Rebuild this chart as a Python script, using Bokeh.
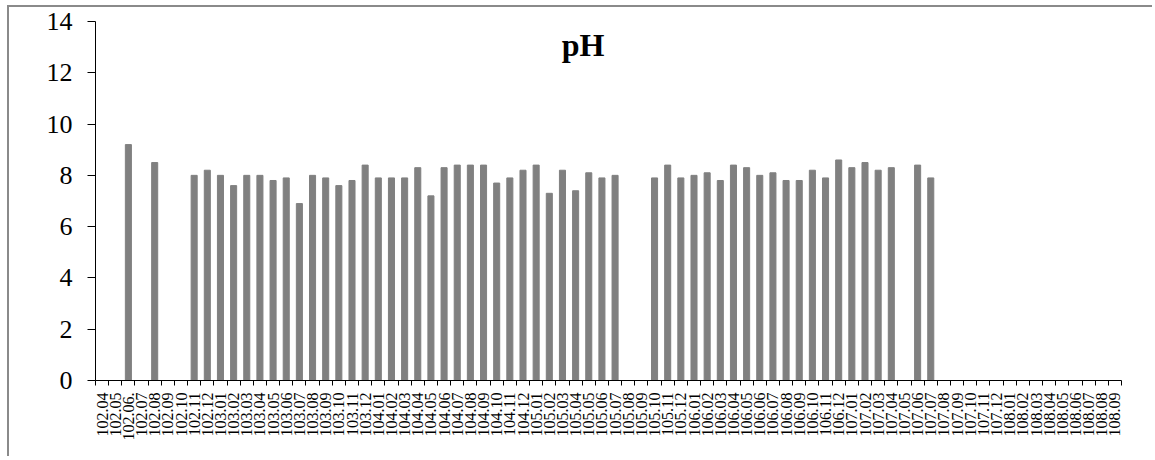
import numpy as np
from bokeh.plotting import figure
from bokeh.models import ColumnDataSource, Range1d, FixedTicker, Label
from bokeh.embed import file_html
from bokeh.resources import INLINE

# ---- data ----
months_102 = ["102.04", "102.05", "102.06.", "102.07", "102.08", "102.09", "102.10", "102.11", "102.12"]
months_103 = ["103.%02d" % m for m in range(1, 13)]
months_104 = ["104.%02d" % m for m in range(1, 13)]
months_105 = ["105.%02d" % m for m in range(1, 13)]
months_106 = ["106.%02d" % m for m in range(1, 13)]
months_107 = ["107.%02d" % m for m in range(1, 13)]
months_108 = ["108.%02d" % m for m in range(1, 10)]
categories = months_102 + months_103 + months_104 + months_105 + months_106 + months_107 + months_108

ph_102 = [None, None, 9.2, None, 8.5, None, None, 8.0, 8.2]
ph_103 = [8.0, 7.6, 8.0, 8.0, 7.8, 7.9, 6.9, 8.0, 7.9, 7.6, 7.8, 8.4]
ph_104 = [7.9, 7.9, 7.9, 8.3, 7.2, 8.3, 8.4, 8.4, 8.4, 7.7, 7.9, 8.2]
ph_105 = [8.4, 7.3, 8.2, 7.4, 8.1, 7.9, 8.0, None, None, 7.9, 8.4, 7.9]
ph_106 = [8.0, 8.1, 7.8, 8.4, 8.3, 8.0, 8.1, 7.8, 7.8, 8.2, 7.9, 8.6]
ph_107 = [8.3, 8.5, 8.2, 8.3, None, 8.4, 7.9, None, None, None, None, None]
ph_108 = [None] * 9
ph = ph_102 + ph_103 + ph_104 + ph_105 + ph_106 + ph_107 + ph_108

y_ticks = [0, 2, 4, 6, 8, 10, 12, 14]
title_text = "pH"

# ---- figure ----
n = len(categories)
idx = list(range(n))
src = ColumnDataSource(dict(x=idx, cat=categories, val=np.array(ph, dtype=float)))

p = figure(x_range=Range1d(-0.5, n - 0.5), y_range=Range1d(0, 14),
           width=1145, height=451, output_backend="svg", toolbar_location=None,
           min_border_left=86, min_border_right=33, min_border_top=14, min_border_bottom=78)
p.margin = (5, 0, 0, 7)
p.styles = {"border-left": "2px solid #8a8a8a", "border-top": "2px solid #8a8a8a"}
p.outline_line_color = None
p.xgrid.grid_line_color = None
p.ygrid.grid_line_color = None
p.background_fill_color = "white"
p.border_fill_color = "white"

p.vbar(x="x", top="val", width=0.46, color="#808080", source=src)

# y axis
ya = p.yaxis[0]
ya.ticker = FixedTicker(ticks=y_ticks)
ya.axis_line_color = "black"
ya.major_tick_line_color = "black"
ya.major_tick_out = 8
ya.major_tick_in = 0
ya.minor_tick_line_color = None
ya.major_label_text_font = "Liberation Serif"
ya.major_label_text_font_size = "26px"
ya.major_label_text_color = "black"
ya.major_label_standoff = 15

# x axis: labels at category centres, tick marks at category boundaries
xa = p.xaxis[0]
xa.ticker = FixedTicker(ticks=idx, minor_ticks=[i - 0.5 for i in range(n + 1)])
xa.major_label_overrides = {i: c for i, c in zip(idx, categories)}
xa.axis_line_color = "black"
xa.major_tick_line_color = None
xa.major_tick_out = 0
xa.major_tick_in = 0
xa.minor_tick_line_color = "black"
xa.minor_tick_out = 5
xa.minor_tick_in = 0
xa.major_label_orientation = np.pi / 2
xa.major_label_text_font = "Liberation Serif"
xa.major_label_text_font_size = "16px"
xa.major_label_text_color = "black"
xa.major_label_standoff = 7

# title inside plot area
p.add_layout(Label(x=36.57, y=13.08, text=title_text, text_align="center", text_baseline="alphabetic",
                   text_font="Liberation Serif", text_font_style="bold", text_font_size="32px",
                   text_color="black"))

open("out.html", "w").write(file_html(p, INLINE))
